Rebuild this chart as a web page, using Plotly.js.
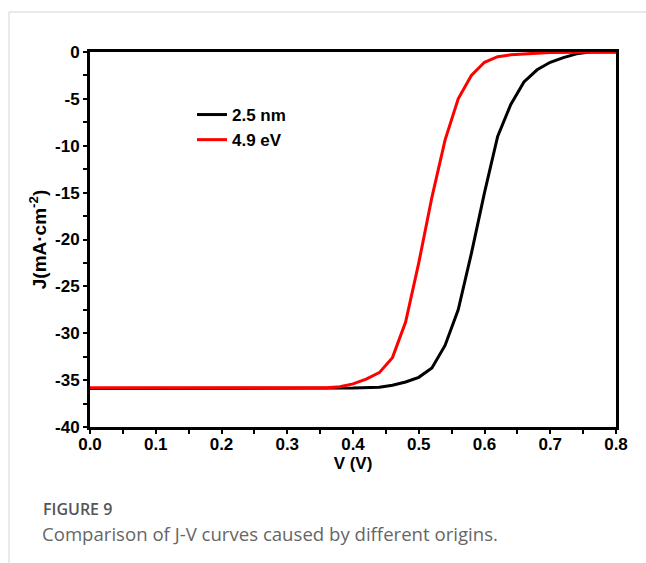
<!DOCTYPE html>
<html>
<head>
<meta charset="utf-8">
<script src="https://cdn.plot.ly/plotly-3.0.1.min.js"></script>
<style>
  html, body { margin: 0; padding: 0; background: #fff; }
  #chart { width: 646px; height: 563px; }
</style>
</head>
<body>
<div id="chart"></div>
<script>
// J-V curves: voltage (V) and current density (mA/cm^2)
const seriesNames = ["2.5 nm", "4.9 eV"];

const vThin = [0.00, 0.10, 0.20, 0.30, 0.36, 0.40, 0.44, 0.46, 0.48, 0.50, 0.52, 0.54, 0.56, 0.58, 0.60, 0.62, 0.64, 0.66, 0.68, 0.70, 0.72, 0.74, 0.76, 0.80];
const jThin = [-35.9, -35.9, -35.9, -35.9, -35.9, -35.85, -35.75, -35.55, -35.2, -34.7, -33.7, -31.3, -27.5, -21.5, -15.0, -9.0, -5.6, -3.2, -1.9, -1.1, -0.6, -0.2, 0.0, 0.0];

const vWork = [0.00, 0.10, 0.20, 0.30, 0.36, 0.38, 0.40, 0.42, 0.44, 0.46, 0.48, 0.50, 0.52, 0.54, 0.56, 0.58, 0.60, 0.62, 0.64, 0.66, 0.70, 0.80];
const jWork = [-35.8, -35.8, -35.8, -35.8, -35.8, -35.7, -35.4, -34.9, -34.2, -32.6, -28.8, -22.5, -15.5, -9.4, -5.0, -2.5, -1.1, -0.5, -0.3, -0.2, -0.05, 0.0];

const xTickVals = [0, 0.1, 0.2, 0.3, 0.4, 0.5, 0.6, 0.7, 0.8];
const xTickText = ["0.0", "0.1", "0.2", "0.3", "0.4", "0.5", "0.6", "0.7", "0.8"];
const yTickVals = [0, -5, -10, -15, -20, -25, -30, -35, -40];
const yTickText = ["0", "-5", "-10", "-15", "-20", "-25", "-30", "-35", "-40"];

const boldFont = { family: "Liberation Sans, Arial, sans-serif", size: 17, color: "#000", weight: "bold" };

const traces = [
  { x: vThin, y: jThin, name: seriesNames[0], mode: "lines", line: { color: "#000000", width: 3 } },
  { x: vWork, y: jWork, name: seriesNames[1], mode: "lines", line: { color: "#ff0000", width: 3 } }
];

// plot box in pixels, used for the frame lines and captions around the figure
const M = { l: 90, r: 30, t: 52, b: 136 };
const W = 646, H = 563;
const pw = W - M.l - M.r, ph = H - M.t - M.b;
const px = v => (v - M.l) / pw;
const py = v => (H - M.b - v) / ph;

const axisCommon = {
  showgrid: false,
  zeroline: false,
  showline: true,
  linecolor: "#000",
  linewidth: 3,
  mirror: true,
  ticks: "outside",
  ticklen: 4,
  tickwidth: 2,
  tickcolor: "#000",
  tickfont: boldFont,
  fixedrange: true
};

const layout = {
  width: W,
  height: H,
  margin: M,
  paper_bgcolor: "#fff",
  plot_bgcolor: "#fff",
  showlegend: true,
  legend: {
    x: px(192), y: py(97), xanchor: "left", yanchor: "top",
    font: boldFont, bgcolor: "rgba(0,0,0,0)", tracegroupgap: 0
  },
  xaxis: Object.assign({}, axisCommon, {
    range: [0, 0.8],
    tickvals: xTickVals, ticktext: xTickText,
    ticklabelstandoff: -4,
    minor: { dtick: 0.05, ticks: "outside", ticklen: 4, tickwidth: 2, tickcolor: "#000" },
    title: { text: "V (V)", font: boldFont, standoff: 0 }
  }),
  yaxis: Object.assign({}, axisCommon, {
    range: [-40, 0],
    tickvals: yTickVals, ticktext: yTickText,
    minor: { dtick: 2.5, ticks: "outside", ticklen: 4, tickwidth: 2, tickcolor: "#000" },
    title: { text: "J(mA·cm<sup>-2</sup>)", font: Object.assign({}, boldFont, { size: 19 }), standoff: 4 }
  }),
  shapes: [
    { type: "line", xref: "paper", yref: "paper", x0: px(9), x1: px(W + 5), y0: py(12), y1: py(12), line: { color: "#d4d4d4", width: 1 } },
    { type: "line", xref: "paper", yref: "paper", x0: px(9), x1: px(9), y0: py(12), y1: py(H + 5), line: { color: "#d4d4d4", width: 1 } }
  ],
  annotations: [
    { xref: "paper", yref: "paper", x: px(41), y: py(496), xanchor: "left", yanchor: "top", showarrow: false,
      text: "FIGURE 9", font: { family: "Open Sans, sans-serif", size: 16, color: "#555", weight: 600 } },
    { xref: "paper", yref: "paper", x: px(40), y: py(519), xanchor: "left", yanchor: "top", showarrow: false,
      text: "Comparison of J-V curves caused by different origins.", font: { family: "Open Sans, sans-serif", size: 18.6, color: "#666" } }
  ]
};

Plotly.newPlot("chart", traces, layout, { displayModeBar: false, staticPlot: true });
</script>
</body>
</html>
